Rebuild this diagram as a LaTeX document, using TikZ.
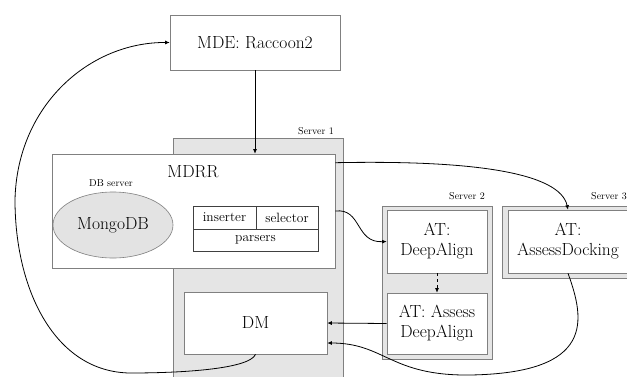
\documentclass[tikz,border=0pt]{standalone}
\usetikzlibrary{arrows.meta,shapes.geometric}

\begin{document}
\begin{tikzpicture}[x=1pt, y=-1pt,
  box/.style={draw=gray, fill=white, line width=0.6pt, inner sep=0pt, align=center,
    font=\fontsize{17.5}{20}\selectfont},
  frame/.style={draw=gray, fill=gray!20, line width=0.6pt},
  tag/.style={font=\fontsize{10}{12}\selectfont, inner sep=1pt},
  cell/.style={draw=black!75, line width=0.5pt, inner sep=0pt,
    font=\fontsize{13.5}{16}\selectfont},
  link/.style={-{Latex[length=4.5pt,width=4pt]}, line width=0.8pt}]
\useasboundingbox (0,0) rectangle (627,376);

% server frames
\def\ServerFrame#1#2#3#4#5#6#7{
\draw[frame] (#1,#2) rectangle (#3,#4);
\node[tag, anchor=base east] at (#5,#6) {#7};
}
\ServerFrame{173}{138}{343}{378}{335}{134}{Server 1}
\ServerFrame{382}{206}{492}{359}{486}{199}{Server 2}
\ServerFrame{502}{206}{634}{278}{628}{199}{Server 3}

% main boxes
\node[box, minimum width=170, minimum height=55] (mde) at (255,42.5) {MDE: Raccoon2};
\node[box, minimum width=283, minimum height=114] (mdrr) at (193.5,211) {};
\node[box, draw=none, fill=none] (mdrrlabel) at (193,172) {MDRR};
\node[tag] (dbsrv) at (111,183) {DB server};
\node[box, ellipse, fill=gray!22, minimum width=120, minimum height=66]
  (mongo) at (113,225) {MongoDB};

% inserter / selector / parsers
\node[cell, minimum width=63, minimum height=23] (ins) at (224.5,217.5) {inserter};
\node[cell, minimum width=62, minimum height=23] (sel) at (287,217.5) {selector};
\node[cell, minimum width=125, minimum height=22] (pars) at (255.5,240) {parsers};

\node[box, minimum width=143, minimum height=62] (dm) at (255.5,323) {DM};
\node[box, minimum width=100, minimum height=63] (align) at (437,241.5) {AT:\\DeepAlign};
\node[box, minimum width=100, minimum height=61] (assess) at (437,323.5) {AT: Assess\\DeepAlign};
\node[box, minimum width=120, minimum height=63] (docking) at (568,241.5) {AT:\\AssessDocking};

% connectors
\draw[link] (mde.south) -- (mde.south |- mdrr.north);
\draw[link] ([yshift=-9pt]mdrr.north east) .. controls (470,160) and (560,172) .. (docking.north);
\draw[link] (mdrr.east) .. controls (362,208) and (355,243) .. (align.west);
\draw[link, dashed] (align.south) -- (assess.north);
\draw[link] (assess.west) -- (dm.east);

\coordinate (low) at (470,375);
\draw[link] (docking.south) .. controls (585,320) and (595,373) .. (low)
  .. controls (390,376) and (385,343) .. ([yshift=-20pt]dm.east);

\coordinate (bend) at (130,373);
\coordinate (far) at (15,200);
\draw[link] (dm.south) .. controls (250,368) and (190,373) .. (bend)
  .. controls (55,372) and (15,290) .. (far)
  .. controls (17,105) and (90,42) .. (mde.west);
\end{tikzpicture}
\end{document}
